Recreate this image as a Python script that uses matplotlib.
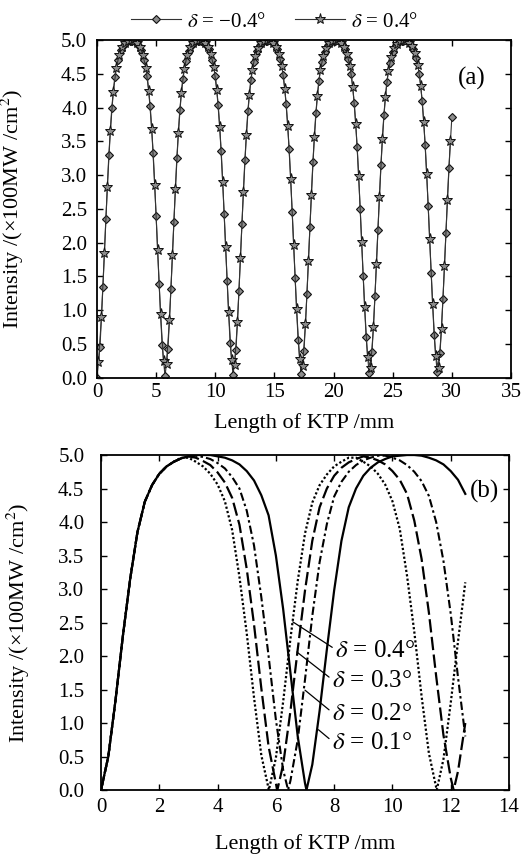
import matplotlib
matplotlib.use("Agg")
import matplotlib.pyplot as plt

plt.rcParams.update({
    'font.family': ['Liberation Serif', 'DejaVu Serif'],
    'mathtext.fontset': 'stix',
    'font.size': 15,
    'axes.linewidth': 1.3,
    'xtick.direction': 'in',
    'ytick.direction': 'in',
    'xtick.top': True,
    'ytick.right': True,
    'xtick.major.size': 4,
    'ytick.major.size': 4,
    'xtick.major.width': 1.0,
    'ytick.major.width': 1.0,
})

# ---- panel (a): delta = -0.4 deg (diamonds) and +0.4 deg (stars) ----
X_NEG = [0, 0.25, 0.5, 0.75, 1.0, 1.25, 1.5, 1.75, 2.0, 2.25, 2.5, 2.75, 3.0, 3.25, 3.5, 3.75,
         4.0, 4.25, 4.5, 4.75, 5.0, 5.25, 5.5, 5.75, 6.0, 6.25, 6.5, 6.75, 7.0, 7.25, 7.5, 7.75,
         8.0, 8.25, 8.5, 8.75, 9.0, 9.25, 9.5, 9.75, 10.0, 10.25, 10.5, 10.75, 11.0, 11.25, 11.5,
         11.75, 12.0, 12.25, 12.5, 12.75, 13.0, 13.25, 13.5, 13.75, 14.0, 14.25, 14.5, 14.75,
         15.0, 15.25, 15.5, 15.75, 16.0, 16.25, 16.5, 16.75, 17.0, 17.25, 17.5, 17.75, 18.0,
         18.25, 18.5, 18.75, 19.0, 19.25, 19.5, 19.75, 20.0, 20.25, 20.5, 20.75, 21.0, 21.25,
         21.5, 21.75, 22.0, 22.25, 22.5, 22.75, 23.0, 23.25, 23.5, 23.75, 24.0, 24.25, 24.5,
         24.75, 25.0, 25.25, 25.5, 25.75, 26.0, 26.25, 26.5, 26.75, 27.0, 27.25, 27.5, 27.75,
         28.0, 28.25, 28.5, 28.75, 29.0, 29.25, 29.5, 29.75, 30.0]
Y_NEG = [0, 0.45, 1.35, 2.35, 3.3, 4.0, 4.45, 4.7, 4.85, 4.93, 4.98, 4.99, 4.99, 4.98, 4.93,
         4.85, 4.71, 4.46, 4.02, 3.33, 2.39, 1.39, 0.49, 0.02,
         0.43, 1.31, 2.31, 3.26, 3.97, 4.43, 4.69, 4.84, 4.93, 4.98, 4.99, 4.99, 4.98, 4.93,
         4.86, 4.71, 4.47, 4.04, 3.36, 2.43, 1.43, 0.52, 0.04,
         0.41, 1.28, 2.27, 3.22, 3.95, 4.41, 4.68, 4.84, 4.92, 4.98, 4.99, 5.0, 4.98, 4.94,
         4.86, 4.72, 4.48, 4.05, 3.38, 2.46, 1.47, 0.56, 0.05,
         0.4, 1.24, 2.23, 3.19, 3.92, 4.4, 4.67, 4.83, 4.92, 4.97, 4.99, 5.0, 4.98, 4.94,
         4.86, 4.72, 4.49, 4.07, 3.41, 2.5, 1.51, 0.6, 0.07,
         0.38, 1.21, 2.19, 3.15, 3.89, 4.38, 4.66, 4.83, 4.92, 4.97, 4.99, 5.0, 4.98, 4.94,
         4.87, 4.73, 4.5, 4.09, 3.44, 2.54, 1.55, 0.63, 0.09,
         0.36, 1.17, 2.15, 3.11, 3.86]

X_POS = [0.125, 0.375, 0.625, 0.875, 1.125, 1.375, 1.625, 1.875, 2.125, 2.375, 2.625, 2.875,
         3.125, 3.375, 3.625, 3.875, 4.125, 4.375, 4.625, 4.875, 5.125, 5.375, 5.625, 5.875,
         6.125, 6.375, 6.625, 6.875, 7.125, 7.375, 7.625, 7.875, 8.125, 8.375, 8.625, 8.875,
         9.125, 9.375, 9.625, 9.875, 10.125, 10.375, 10.625, 10.875, 11.125, 11.375, 11.625,
         11.875, 12.125, 12.375, 12.625, 12.875, 13.125, 13.375, 13.625, 13.875, 14.125,
         14.375, 14.625, 14.875, 15.125, 15.375, 15.625, 15.875, 16.125, 16.375, 16.625,
         16.875, 17.125, 17.375, 17.625, 17.875, 18.125, 18.375, 18.625, 18.875, 19.125,
         19.375, 19.625, 19.875, 20.125, 20.375, 20.625, 20.875, 21.125, 21.375, 21.625,
         21.875, 22.125, 22.375, 22.625, 22.875, 23.125, 23.375, 23.625, 23.875, 24.125,
         24.375, 24.625, 24.875, 25.125, 25.375, 25.625, 25.875, 26.125, 26.375, 26.625,
         26.875, 27.125, 27.375, 27.625, 27.875, 28.125, 28.375, 28.625, 28.875, 29.125,
         29.375, 29.625, 29.875]
Y_POS = [0.23, 0.9, 1.85, 2.83, 3.65, 4.23, 4.58, 4.78, 4.89, 4.96, 4.99, 5.0, 4.99, 4.96,
         4.89, 4.78, 4.59, 4.24, 3.68, 2.86, 1.89, 0.94, 0.24,
         0.21, 0.86, 1.81, 2.79, 3.62, 4.21, 4.57, 4.78, 4.89, 4.95, 4.99, 5.0, 4.99, 4.96,
         4.9, 4.79, 4.6, 4.26, 3.71, 2.9, 1.93, 0.98, 0.26,
         0.19, 0.82, 1.77, 2.75, 3.59, 4.19, 4.56, 4.77, 4.88, 4.95, 4.99, 5.0, 4.99, 4.96,
         4.9, 4.79, 4.61, 4.28, 3.73, 2.94, 1.97, 1.01, 0.28,
         0.17, 0.79, 1.73, 2.71, 3.57, 4.17, 4.55, 4.76, 4.88, 4.95, 4.98, 5.0, 4.99, 4.96,
         4.9, 4.8, 4.62, 4.3, 3.76, 2.98, 2.01, 1.05, 0.3,
         0.15, 0.75, 1.69, 2.67, 3.54, 4.15, 4.54, 4.75, 4.88, 4.94, 4.98, 5.0, 4.99, 4.96,
         4.91, 4.81, 4.63, 4.32, 3.79, 3.01, 2.05, 1.09, 0.32,
         0.14, 0.72, 1.65, 2.63, 3.51]

# ---- panel (b): four deviation angles ----
X_D1 = [0, 0.25, 0.5, 0.75, 1.0, 1.25, 1.5, 1.75, 2.0, 2.25, 2.5, 2.75, 3.0, 3.25, 3.5, 3.75,
        4.0, 4.25, 4.5, 4.75, 5.0, 5.25, 5.5, 5.75, 6.0, 6.25, 6.5, 6.75, 7.0, 7.05, 7.25, 7.5,
        7.75, 8.0, 8.25, 8.5, 8.75, 9.0, 9.25, 9.5, 9.75, 10.0, 10.25, 10.5, 10.75, 11.0, 11.25,
        11.5, 11.75, 12.0, 12.25, 12.5]
Y_D1 = [0, 0.5, 1.35, 2.3, 3.15, 3.85, 4.3, 4.55, 4.72, 4.83, 4.9, 4.95, 4.98, 5.0, 5.0, 5.0,
        4.98, 4.96, 4.92, 4.86, 4.76, 4.62, 4.4, 4.1, 3.5, 2.7, 1.75, 0.8, 0.1, 0, 0.38, 1.18,
        2.1, 2.98, 3.72, 4.22, 4.5, 4.69, 4.81, 4.89, 4.94, 4.98, 4.99, 5.0, 5.0, 4.99, 4.96,
        4.92, 4.86, 4.76, 4.63, 4.42]

X_D2 = [0, 0.25, 0.5, 0.75, 1.0, 1.25, 1.5, 1.75, 2.0, 2.25, 2.5, 2.75, 3.0, 3.25, 3.5, 3.75,
        4.0, 4.25, 4.5, 4.75, 5.0, 5.25, 5.5, 5.75, 6.0, 6.25, 6.42, 6.5, 6.75, 7.0, 7.25, 7.5,
        7.75, 8.0, 8.25, 8.5, 8.75, 9.0, 9.25, 9.5, 9.75, 10.0, 10.25, 10.5, 10.75, 11.0, 11.25,
        11.5, 11.75, 12.0, 12.25, 12.5]
Y_D2 = [0, 0.5, 1.35, 2.3, 3.15, 3.85, 4.3, 4.55, 4.72, 4.83, 4.9, 4.95, 4.98, 4.99, 4.97,
        4.94, 4.88, 4.8, 4.67, 4.5, 4.17, 3.65, 2.88, 2.0, 1.05, 0.3, 0, 0.14, 0.75, 1.65, 2.6,
        3.4, 3.97, 4.38, 4.6, 4.75, 4.85, 4.92, 4.96, 4.99, 4.99, 4.96, 4.92, 4.85, 4.75, 4.61,
        4.39, 4.0, 3.42, 2.63, 1.68, 0.8]

X_D3 = [0, 0.25, 0.5, 0.75, 1.0, 1.25, 1.5, 1.75, 2.0, 2.25, 2.5, 2.75, 3.0, 3.25, 3.5, 3.75,
        4.0, 4.25, 4.5, 4.75, 5.0, 5.25, 5.5, 5.75, 6.0, 6.05, 6.25, 6.5, 6.75, 7.0, 7.25, 7.5,
        7.75, 8.0, 8.25, 8.5, 8.75, 9.0, 9.25, 9.5, 9.75, 10.0, 10.25, 10.5, 10.75, 11.0, 11.25,
        11.5, 11.75, 12.0, 12.1, 12.25, 12.5]
Y_D3 = [0, 0.5, 1.35, 2.3, 3.15, 3.85, 4.3, 4.55, 4.72, 4.83, 4.9, 4.95, 4.98, 4.96, 4.91,
        4.85, 4.74, 4.59, 4.36, 3.96, 3.3, 2.47, 1.52, 0.65, 0.1, 0, 0.38, 1.18, 2.1, 2.98, 3.72,
        4.22, 4.5, 4.69, 4.81, 4.89, 4.94, 4.98, 4.96, 4.92, 4.86, 4.76, 4.63, 4.42, 4.02, 3.45,
        2.65, 1.7, 0.82, 0.18, 0, 0.28, 1.0]

X_D4 = [0, 0.25, 0.5, 0.75, 1.0, 1.25, 1.5, 1.75, 2.0, 2.25, 2.5, 2.75, 3.0, 3.25, 3.5, 3.75,
        4.0, 4.25, 4.5, 4.75, 5.0, 5.25, 5.5, 5.76, 6.0, 6.25, 6.5, 6.75, 7.0, 7.25, 7.5, 7.75,
        8.0, 8.25, 8.5, 8.75, 9.0, 9.25, 9.5, 9.75, 10.0, 10.25, 10.5, 10.75, 11.0, 11.25,
        11.52, 11.75, 12.0, 12.25, 12.5]
Y_D4 = [0, 0.5, 1.35, 2.3, 3.15, 3.85, 4.3, 4.55, 4.72, 4.83, 4.9, 4.96, 4.96, 4.9, 4.83,
        4.72, 4.56, 4.31, 3.88, 3.18, 2.34, 1.38, 0.52, 0, 0.48, 1.32, 2.26, 3.12, 3.83, 4.29,
        4.55, 4.71, 4.83, 4.9, 4.96, 4.96, 4.9, 4.83, 4.72, 4.56, 4.31, 3.9, 3.2, 2.36, 1.4,
        0.55, 0, 0.46, 1.3, 2.22, 3.1]

B_LABELS = [r"$\delta$ = 0.4°", r"$\delta$ = 0.3°", r"$\delta$ = 0.2°", r"$\delta$ = 0.1°"]

Y_TICKS = [0, 0.5, 1.0, 1.5, 2.0, 2.5, 3.0, 3.5, 4.0, 4.5, 5.0]
YLABEL = "Intensity /(×100MW /cm$^{2}$)"
XLABEL = "Length of KTP /mm"

fig = plt.figure(figsize=(5.21, 8.59), dpi=100)
ax_a = fig.add_axes([0.1862, 0.5603, 0.7946, 0.3931])
ax_b = fig.add_axes([0.1939, 0.0803, 0.7831, 0.3900])

# panel (a)
l_neg, = ax_a.plot(X_NEG, Y_NEG, color="#333333", lw=0.8, marker="D", ms=4.2,
                   mfc="#8c8c8c", mec="#111111", mew=0.8)
l_pos, = ax_a.plot(X_POS, Y_POS, color="#333333", lw=0.8, marker="*", ms=8,
                   mfc="#8c8c8c", mec="#111111", mew=0.7)
ax_a.set_xlim(0, 35)
ax_a.set_xticks([0, 5, 10, 15, 20, 25, 30, 35])
ax_a.text(0.905, 0.885, "(a)", transform=ax_a.transAxes, ha="center", va="center", fontsize=18)
ax_a.yaxis.set_label_coords(-0.172, 0.5)

fig.legend([l_neg, l_pos], [r"$\delta$ = −0.4°", r"$\delta$ = 0.4°"],
           loc="center", bbox_to_anchor=(0.527, 0.9747), ncol=2, frameon=False,
           fontsize=15, numpoints=1, handlelength=2.4, handletextpad=0.3, columnspacing=1.4)

# panel (b)
ax_b.plot(X_D1, Y_D1, color="k", lw=1.6, ls="-")
ax_b.plot(X_D2, Y_D2, color="k", lw=1.5, dashes=(4, 1.5, 1.2, 1.5))
ax_b.plot(X_D3, Y_D3, color="k", lw=1.6, dashes=(6, 2))
ax_b.plot(X_D4, Y_D4, color="k", lw=1.6, ls=(0, (1, 1)))
ax_b.set_xlim(0, 14)
ax_b.set_xticks([0, 2, 4, 6, 8, 10, 12, 14])
ax_b.text(0.94, 0.89, "(b)", transform=ax_b.transAxes, ha="center", va="center", fontsize=18)
ax_b.yaxis.set_label_coords(-0.169, 0.5)

pointers = [(6.58, 2.51), (6.72, 2.06), (7.0, 1.49), (7.46, 0.90)]
label_pos = [(8.03, 2.07), (7.92, 1.62), (7.92, 1.13), (7.92, 0.70)]
for lab, xy, xyt in zip(B_LABELS, pointers, label_pos):
    ax_b.annotate(lab, xy=xy, xytext=xyt, ha="left", va="center", fontsize=18,
                  arrowprops=dict(arrowstyle="-", lw=0.9, color="k",
                                  shrinkA=0, shrinkB=0, relpos=(0, 0.6)))

for ax, ypad, xpad, lpad in ((ax_a, 7, 4, 8), (ax_b, 12, 6, 12)):
    ax.set_ylim(0, 5)
    ax.set_yticks(Y_TICKS)
    ax.set_yticklabels([f"{v:.1f}" for v in Y_TICKS])
    ax.tick_params(axis="y", pad=ypad, labelsize=15)
    ax.tick_params(axis="x", pad=xpad, labelsize=15)
    ax.set_xlabel(XLABEL, fontsize=16, labelpad=lpad)
    ax.set_ylabel(YLABEL, fontsize=16)

fig.savefig("out.png", dpi=100)
